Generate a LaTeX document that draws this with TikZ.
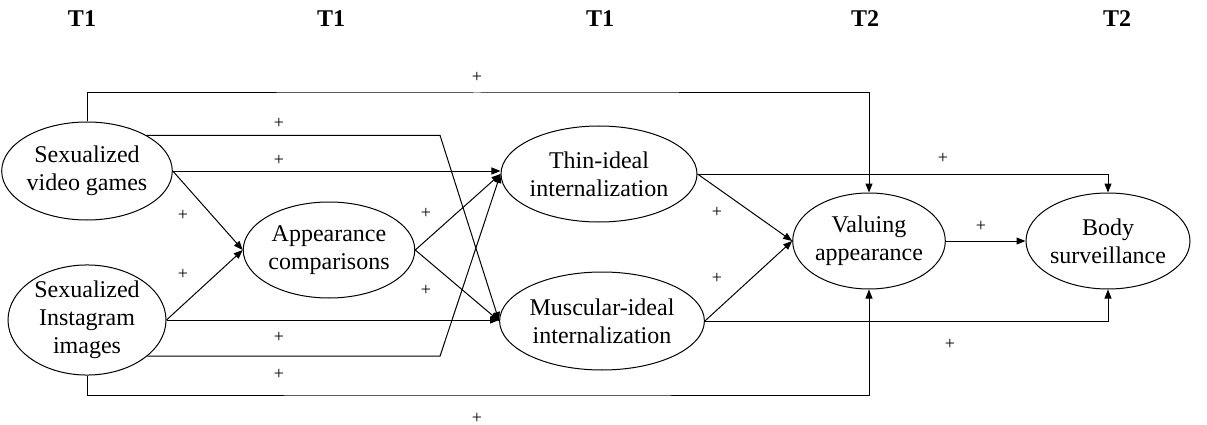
\documentclass[tikz,border=0pt]{standalone}
\usepackage{fontspec}
\setmainfont{Liberation Serif}
\usetikzlibrary{shapes.geometric,arrows.meta,calc}
\begin{document}
\begin{tikzpicture}[x=1pt,y=-1pt,
 ov/.style={draw,ellipse,inner sep=0pt,align=center,font=\fontsize{24}{28}\selectfont,line width=1pt},
 arr/.style={-{Triangle[length=9pt,width=7pt]},line width=1pt},
 pl/.style={font=\fontsize{18}{20}\selectfont,inner sep=0pt},
 tl/.style={font=\fontsize{24}{26}\selectfont\bfseries,inner sep=0pt}]
\useasboundingbox (0,0) rectangle (1207,425);
% time labels
\node[tl] (t1) at (82,19) {T1};
\node[tl] (t2) at (331,19) {T1};
\node[tl] (t3) at (600,19) {T1};
\node[tl] (t4) at (865,19) {T2};
\node[tl] (t5) at (1117,19) {T2};
% nodes
\node[ov,minimum width=158pt,minimum height=98pt] (svg) at (87,171) {Sexualized\\video games};
\node[ov,minimum width=158pt,minimum height=96pt] (sii) at (87,320) {Sexualized\\Instagram\\images};
\node[ov,minimum width=158pt,minimum height=96pt] (app) at (329,250) {Appearance\\comparisons};
\node[ov,minimum width=163pt,minimum height=96pt] (thin) at (599,174) {Thin-ideal\\internalization};
\node[ov,minimum width=168pt,minimum height=98pt] (mus) at (602,321) {Muscular-ideal\\internalization};
\node[ov,minimum width=151pt,minimum height=96pt] (val) at (869,241) {Valuing\\appearance};
\node[ov,minimum width=148pt,minimum height=96pt] (body) at (1108,241) {Body\\surveillance};
% helper coordinates
\coordinate (top) at (477,93);
\coordinate (bot) at (477,395);
\coordinate (k1) at (440,137);
\coordinate (k2) at (440,354);
% connectors
\draw[arr] (svg.north) |- (top) -| (val.north);
\draw[arr] (svg.31) -- (svg.31 -| k1) -- (mus.west);
\draw[arr] (svg.east) -- (svg.east -| thin.west);
\draw[arr] (svg.east) -- (app.west);
\draw[arr] (sii.east) -- (app.west);
\draw[arr] (sii.east) -- (sii.east -| mus.west);
\draw[arr] (sii.-31) -- (sii.-31 -| k2) -- (thin.west);
\draw[arr] (sii.south) |- (bot) -| (val.south);
\draw[arr] (app.east) -- (thin.west);
\draw[arr] (app.east) -- (mus.west);
\draw[arr] (thin.east) -- (val.west);
\draw[arr] (mus.east) -- (val.west);
\draw[arr] (thin.east) -| (body.north);
\draw[arr] (mus.east) -| (body.south);
\draw[arr] (val.east) -- (body.west);
% plus labels
\node[pl] (p1) at (477,77) {+};
\node[pl] (p2) at (279,123) {+};
\node[pl] (p3) at (279,160) {+};
\node[pl] (p4) at (183,215) {+};
\node[pl] (p5) at (183,274) {+};
\node[pl] (p6) at (279,337) {+};
\node[pl] (p7) at (279,374) {+};
\node[pl] (p8) at (477,418) {+};
\node[pl] (p9) at (426,213) {+};
\node[pl] (p10) at (426,290) {+};
\node[pl] (p11) at (717,212) {+};
\node[pl] (p12) at (717,278) {+};
\node[pl] (p13) at (943,158) {+};
\node[pl] (p14) at (950,344) {+};
\node[pl] (p15) at (981,226) {+};
\end{tikzpicture}
\end{document}
